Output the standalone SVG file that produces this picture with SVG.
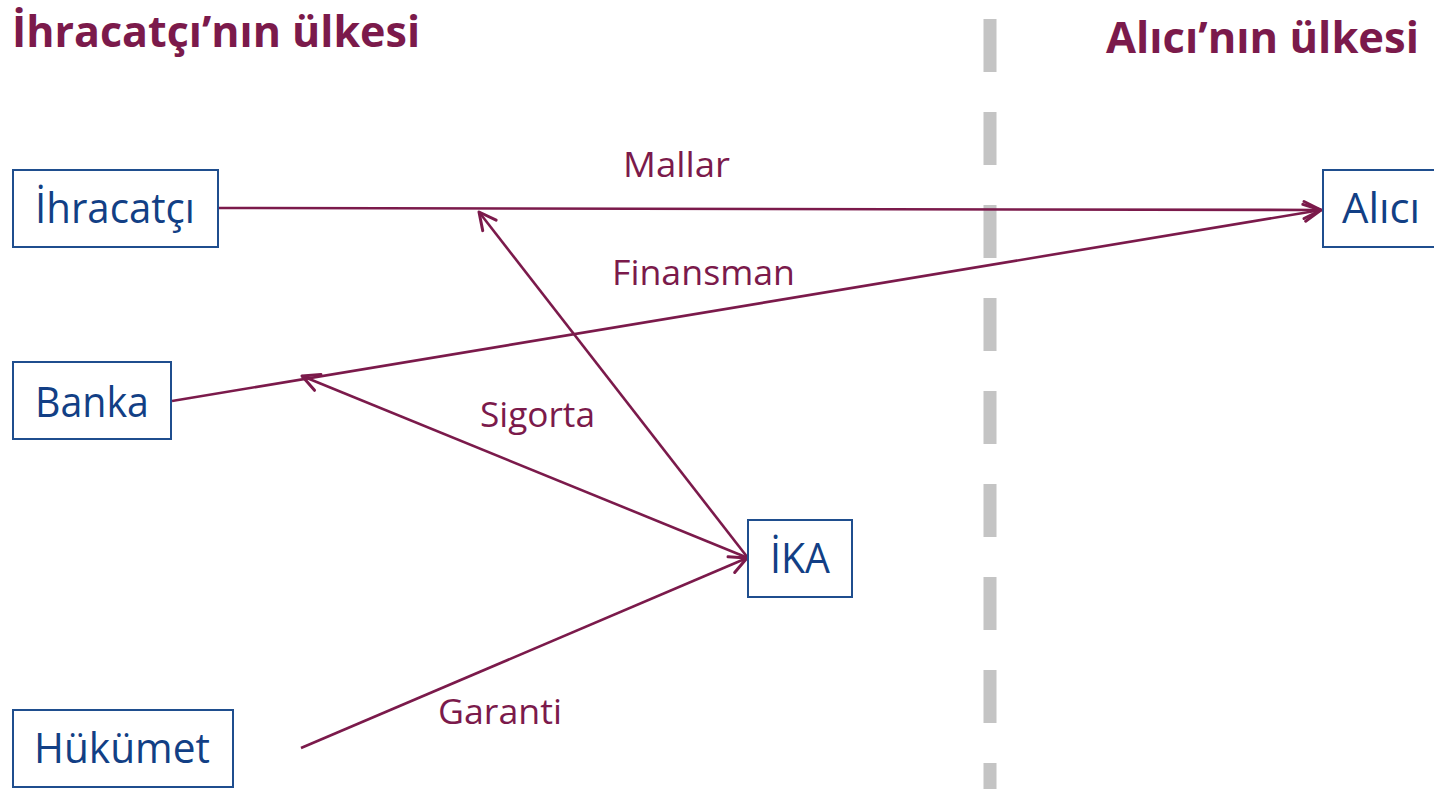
<svg xmlns="http://www.w3.org/2000/svg" width="1434" height="789" viewBox="0 0 1434 789">
<style>
.title{font-family:"Open Sans","Liberation Sans",sans-serif;font-weight:bold;font-size:43px;fill:#7B1A4B}
.box{fill:#fff;stroke:#1F4E8E;stroke-width:2}
.nt{font-family:"Open Sans","Liberation Sans",sans-serif;font-size:42px;fill:#123F85}
.lbl{font-family:"Open Sans","Liberation Sans",sans-serif;font-size:35px;fill:#7B1A4B}
.conn{stroke:#7B1A4B;stroke-width:2.6;fill:none;marker-end:url(#arr)}
</style>
<defs>
<marker id="arr" markerUnits="userSpaceOnUse" markerWidth="24" markerHeight="24" viewBox="-20 -12 24 24" refX="0" refY="0" orient="auto">
<path d="M -17 -8.5 L 0 0 L -17 8.5" fill="none" stroke="#7B1A4B" stroke-width="3" stroke-linecap="round" stroke-linejoin="round"/>
</marker>
</defs>
<rect width="1434" height="789" fill="#fff"/>
<line x1="990" y1="19" x2="990" y2="789" stroke="#C4C4C4" stroke-width="13" stroke-dasharray="53 40"/>
<text class="title" x="12" y="47" textLength="408" lengthAdjust="spacingAndGlyphs">İhracatçı’nın ülkesi</text>
<text class="title" x="1106" y="53" textLength="313" lengthAdjust="spacingAndGlyphs">Alıcı’nın ülkesi</text>
<g id="connectors">
<line class="conn" x1="219" y1="208" x2="1321" y2="210"/>
<line class="conn" x1="172" y1="401" x2="1321" y2="210"/>
<line class="conn" x1="748" y1="558" x2="479" y2="212"/>
<line class="conn" x1="748" y1="558" x2="302" y2="376"/>
<line class="conn" x1="301" y1="748" x2="747" y2="558"/>
<text class="lbl" x="623" y="177" textLength="107" lengthAdjust="spacingAndGlyphs">Mallar</text>
<text class="lbl" x="612" y="285" textLength="183" lengthAdjust="spacingAndGlyphs">Finansman</text>
<text class="lbl" x="480" y="427" textLength="115" lengthAdjust="spacingAndGlyphs">Sigorta</text>
<text class="lbl" x="438" y="724" textLength="124" lengthAdjust="spacingAndGlyphs">Garanti</text>
</g>
<g id="ihracatci">
<rect class="box" x="13" y="170" width="205" height="77"/>
<text class="nt" x="35" y="223" textLength="160" lengthAdjust="spacingAndGlyphs">İhracatçı</text>
</g>
<g id="banka">
<rect class="box" x="13" y="362" width="158" height="77"/>
<text class="nt" x="35" y="417" textLength="114" lengthAdjust="spacingAndGlyphs">Banka</text>
</g>
<g id="hukumet">
<rect class="box" x="13" y="710" width="220" height="77"/>
<text class="nt" x="34" y="763" textLength="176" lengthAdjust="spacingAndGlyphs">Hükümet</text>
</g>
<g id="ika">
<rect class="box" x="748" y="520" width="104" height="77"/>
<text class="nt" x="770" y="573" textLength="60" lengthAdjust="spacingAndGlyphs">İKA</text>
</g>
<g id="alici">
<rect class="box" x="1323" y="170" width="120" height="77"/>
<text class="nt" x="1342" y="223" textLength="78" lengthAdjust="spacingAndGlyphs">Alıcı</text>
</g>
</svg>
